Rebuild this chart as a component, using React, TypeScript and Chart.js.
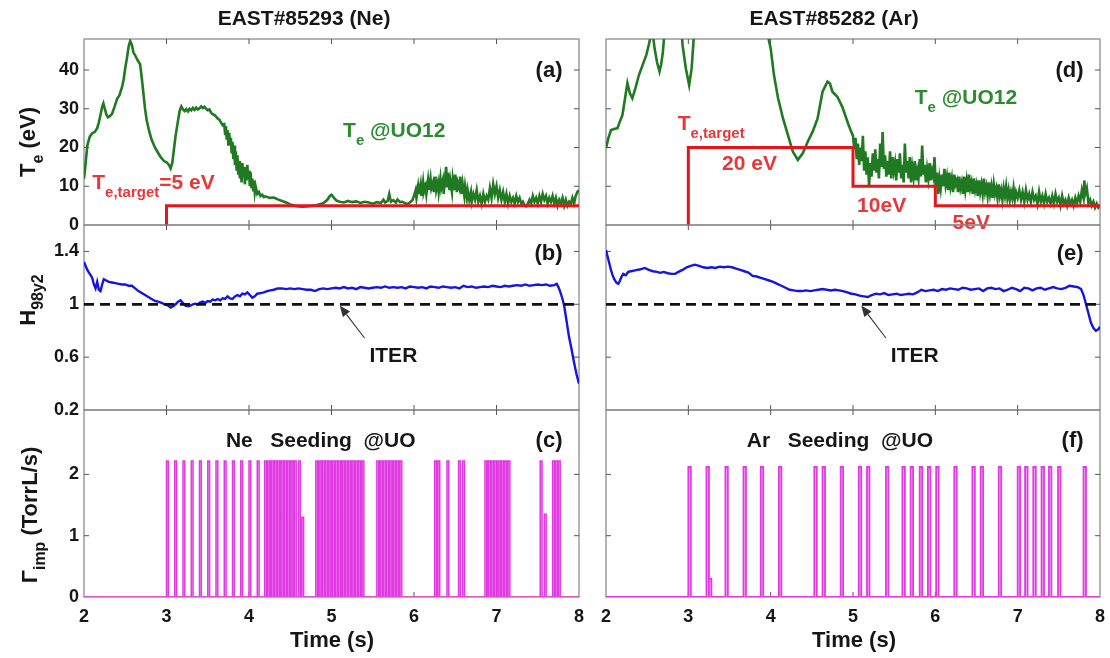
import React, { useEffect, useRef } from "react";
import { Chart, registerables } from "chart.js";

Chart.register(...registerables);

type P = [number, number];

// ---------------- axes / ticks ----------------
const TIME_RANGE: P = [2, 8];
const TIME_TICKS = [2, 3, 4, 5, 6, 7, 8];
const TE_RANGE: P = [0, 48];
const TE_TICKS = [0, 10, 20, 30, 40];
const H_RANGE: P = [0.2, 1.6];
const H_TICKS = [0.2, 0.6, 1, 1.4];
const GAMMA_RANGE: P = [0, 3.05];
const GAMMA_TICKS = [0, 1, 2];

// ---------------- texts ----------------
const TITLE_NE = "EAST#85293 (Ne)";
const TITLE_AR = "EAST#85282 (Ar)";
const X_TITLE = "Time (s)";
const ITER_TEXT = "ITER";
const SEED_NE = "Ne   Seeding  @UO";
const SEED_AR = "Ar   Seeding  @UO";
const LETTERS = ["(a)", "(b)", "(c)", "(d)", "(e)", "(f)"];

// ---------------- series: Te at UO12 (Ne shot) ----------------
const teNe: P[] = [
  [2.0, 12.0], [2.02, 16], [2.04, 20.5], [2.07, 22.8], [2.1, 23.7], [2.13, 24.0], [2.16, 25.0], [2.18, 26.5],
  [2.2, 28.4], [2.22, 30.5], [2.235, 31.4], [2.25, 30.2], [2.27, 28.6], [2.29, 27.8], [2.31, 28.0], [2.34, 28.7],
  [2.37, 30.5], [2.4, 32.5], [2.43, 33.5], [2.46, 35.5], [2.48, 37.5], [2.5, 40.5], [2.52, 43], [2.54, 46],
  [2.56, 47.5], [2.58, 46.5], [2.6, 44.5], [2.62, 43.8], [2.65, 42.5], [2.68, 41.5], [2.7, 38], [2.72, 34],
  [2.74, 30], [2.76, 27], [2.79, 24.2], [2.82, 22], [2.86, 20], [2.89, 18.9], [2.93, 17.5], [2.97, 16.5],
  [3.0, 16.2], [3.03, 15.5], [3.05, 14.6], [3.07, 16], [3.09, 19.5], [3.11, 23], [3.14, 27], [3.16, 29.5],
  [3.18, 30.6], [3.2, 29.8], [3.22, 29.4], [3.24, 29.9], [3.26, 29.3], [3.28, 30.0], [3.3, 29.6], [3.32, 30.2],
  [3.34, 29.7], [3.36, 30.3], [3.38, 29.8], [3.4, 30.1], [3.42, 30.6], [3.44, 30.2], [3.46, 30.5], [3.48, 30.0],
  [3.5, 29.6], [3.52, 29.8], [3.54, 29.0], [3.56, 28.6], [3.58, 28.4], [3.6, 28.0], [3.62, 27.5], [3.64, 27.2],
  [3.66, 26.5], [3.68, 25.8],
  [3.7, 26.0], [3.71, 23.5], [3.72, 25.5], [3.73, 22.0], [3.74, 24.5], [3.75, 20.5], [3.76, 23.8], [3.77, 21.0],
  [3.78, 22.5], [3.79, 18.5], [3.8, 21.5], [3.81, 17.0], [3.82, 20.5], [3.83, 15.5], [3.84, 19.0], [3.85, 14.0],
  [3.86, 18.0], [3.87, 13.0], [3.88, 16.5], [3.89, 12.0], [3.9, 15.5], [3.91, 11.0], [3.92, 16.0], [3.93, 12.5],
  [3.94, 15.0], [3.95, 10.5], [3.96, 14.5], [3.97, 11.5], [3.98, 15.5], [3.99, 12.0], [4.0, 14.0], [4.01, 10.0],
  [4.02, 13.5], [4.03, 9.5], [4.04, 12.0], [4.05, 9.0], [4.06, 11.5], [4.07, 8.5], [4.08, 10.0], [4.1, 8.0],
  [4.12, 8.5], [4.14, 7.5], [4.16, 7.8], [4.18, 7.2], [4.2, 7.4],
  [4.25, 7.0], [4.3, 7.1], [4.35, 6.6], [4.4, 6.2], [4.45, 5.8], [4.5, 5.3], [4.55, 5.0], [4.6, 4.8],
  [4.65, 4.7], [4.7, 4.8], [4.75, 4.9], [4.8, 5.0], [4.85, 5.3], [4.9, 5.6], [4.95, 6.5], [4.98, 7.5],
  [5.0, 7.8], [5.03, 7.0], [5.06, 6.3], [5.1, 6.0], [5.15, 5.8], [5.2, 6.2], [5.25, 5.9], [5.3, 6.1],
  [5.35, 5.7], [5.4, 6.0], [5.45, 5.8], [5.5, 5.5], [5.55, 5.9], [5.6, 5.7], [5.63, 6.5], [5.65, 5.8],
  [5.68, 6.2], [5.7, 8.0], [5.72, 6.0], [5.75, 6.4], [5.78, 5.8], [5.8, 6.6], [5.83, 5.9], [5.86, 6.0],
  [5.89, 5.6], [5.92, 5.4], [5.95, 5.8], [5.98, 6.4],
  [6.0, 7.5], [6.02, 9.0], [6.03, 7.0], [6.05, 10.0], [6.06, 8.0], [6.08, 10.5], [6.09, 7.5], [6.11, 11.0],
  [6.12, 8.5], [6.14, 10.0], [6.15, 8.0], [6.17, 11.5], [6.18, 9.0], [6.2, 12.0], [6.21, 9.5], [6.23, 11.0],
  [6.24, 8.5], [6.26, 12.5], [6.27, 9.0], [6.29, 11.0], [6.3, 8.5], [6.32, 12.0], [6.33, 9.5], [6.35, 11.5],
  [6.36, 8.0], [6.38, 13.0], [6.39, 15.0], [6.4, 10.0], [6.41, 13.5], [6.43, 9.0], [6.44, 11.5], [6.46, 8.5],
  [6.47, 12.0], [6.49, 9.0], [6.5, 13.0], [6.52, 8.5], [6.53, 11.0], [6.55, 9.5], [6.56, 12.5], [6.58, 8.0],
  [6.59, 10.5], [6.61, 7.5], [6.62, 10.0], [6.64, 7.0], [6.65, 9.0],
  [6.67, 6.5], [6.69, 8.5], [6.7, 6.0], [6.72, 8.0], [6.74, 6.5], [6.76, 9.0], [6.78, 6.0], [6.8, 7.5],
  [6.82, 5.5], [6.84, 8.0], [6.86, 6.0], [6.88, 7.5], [6.9, 6.5], [6.92, 9.5], [6.94, 7.0], [6.96, 10.5],
  [6.98, 8.0], [7.0, 10.0], [7.02, 7.0], [7.04, 9.0], [7.06, 6.5], [7.08, 8.5], [7.1, 6.0], [7.12, 8.0],
  [7.14, 5.5], [7.16, 7.5], [7.18, 6.0], [7.2, 7.0], [7.22, 5.5], [7.24, 7.5], [7.26, 6.0], [7.28, 7.0],
  [7.3, 5.5], [7.32, 6.0], [7.34, 5.0], [7.36, 4.8], [7.38, 5.5], [7.4, 6.5], [7.42, 5.5], [7.44, 7.5],
  [7.46, 6.0], [7.48, 7.0], [7.5, 5.5], [7.52, 7.5], [7.54, 6.0], [7.56, 8.0], [7.58, 6.5], [7.6, 7.5],
  [7.62, 5.5], [7.64, 7.0], [7.66, 6.0], [7.68, 7.5], [7.7, 5.5], [7.72, 7.0], [7.74, 5.0], [7.76, 6.5],
  [7.78, 5.5], [7.8, 7.0], [7.82, 5.0], [7.84, 6.5], [7.86, 5.0], [7.88, 6.0], [7.9, 5.5], [7.92, 7.0],
  [7.94, 5.5], [7.96, 7.5], [7.98, 8.5], [8.0, 9.0],
];
const teTargetNe: P[] = [[3, 0], [3, 5], [8, 5]];

// ---------------- series: Te at UO12 (Ar shot) ----------------
const teAr: P[] = [
  [2.0, 19.8], [2.03, 22.5], [2.06, 24.5], [2.1, 24.8], [2.14, 25.0], [2.17, 26.8], [2.2, 28.4], [2.23, 32.5],
  [2.26, 36.6], [2.29, 34.0], [2.32, 32.7], [2.36, 35.5], [2.4, 38.7], [2.44, 41.0], [2.49, 43.9], [2.52, 46.5],
  [2.55, 49.5], [2.57, 49.0], [2.59, 45.6], [2.62, 42.0], [2.65, 39.6], [2.67, 41.5], [2.69, 44.5], [2.71, 49.5],
  [2.8, 60], [2.9, 55], [2.93, 46.4], [2.97, 40.4], [3.01, 36.1], [3.04, 40.4], [3.07, 49.5], [3.2, 60],
  [3.5, 60], [3.8, 60], [3.96, 50], [3.98, 47.5], [4.0, 45.6], [4.04, 38.7], [4.09, 32.7], [4.15, 27.5],
  [4.21, 23.2], [4.27, 18.9], [4.33, 16.8], [4.39, 18.5], [4.45, 21.5], [4.51, 24.1], [4.57, 27.5], [4.63, 34.4],
  [4.69, 37.0], [4.72, 36.5], [4.75, 34.4], [4.81, 33.1], [4.87, 30.5], [4.94, 26.2], [4.97, 24.5],
  [5.0, 23.0], [5.015, 19.5], [5.03, 22.5], [5.045, 17.0], [5.06, 21.0], [5.075, 15.5], [5.09, 20.0], [5.105, 16.5],
  [5.12, 23.0], [5.135, 14.0], [5.15, 19.0], [5.165, 13.0], [5.18, 17.5], [5.195, 10.0], [5.21, 16.0], [5.225, 12.5],
  [5.24, 18.5], [5.255, 14.0], [5.27, 19.5], [5.285, 13.5], [5.3, 17.0], [5.315, 12.0], [5.33, 21.0], [5.345, 15.0],
  [5.36, 24.0], [5.375, 14.5], [5.39, 18.0], [5.405, 12.5], [5.42, 16.5], [5.435, 13.0], [5.45, 19.0], [5.465, 12.0],
  [5.48, 17.5], [5.495, 14.0], [5.51, 16.0], [5.525, 11.5], [5.54, 17.0], [5.555, 13.5], [5.57, 18.5], [5.585, 12.0],
  [5.6, 15.5], [5.615, 11.0], [5.63, 21.0], [5.645, 13.5], [5.66, 16.5], [5.675, 12.0], [5.69, 17.5], [5.705, 11.0],
  [5.72, 15.0], [5.735, 12.5], [5.75, 16.5], [5.765, 11.5], [5.78, 14.0], [5.795, 12.0], [5.81, 17.0], [5.825, 12.5],
  [5.84, 20.5], [5.855, 13.0], [5.87, 15.5], [5.885, 11.0], [5.9, 14.5], [5.915, 12.0], [5.93, 16.0], [5.945, 11.5],
  [5.96, 14.0], [5.975, 12.5], [5.99, 17.5],
  [6.005, 10.0], [6.02, 13.5], [6.035, 8.0], [6.05, 12.0], [6.065, 9.5], [6.08, 13.0], [6.095, 10.0], [6.11, 14.5],
  [6.125, 10.5], [6.14, 12.5], [6.155, 9.0], [6.17, 13.5], [6.185, 10.0], [6.2, 12.0], [6.215, 8.5], [6.23, 13.0],
  [6.245, 10.5], [6.26, 11.5], [6.275, 8.5], [6.29, 12.5], [6.305, 9.5], [6.32, 11.0], [6.335, 8.0], [6.35, 12.5],
  [6.365, 9.0], [6.38, 11.5], [6.395, 8.5], [6.41, 13.0], [6.425, 9.5], [6.44, 11.0], [6.455, 8.0], [6.47, 12.0],
  [6.485, 9.0], [6.5, 10.5], [6.515, 7.5], [6.53, 11.5], [6.545, 8.5], [6.56, 10.5], [6.575, 8.0], [6.59, 12.0],
  [6.605, 8.5], [6.62, 10.0], [6.635, 7.5], [6.65, 11.0], [6.665, 8.0], [6.68, 10.0], [6.695, 7.0], [6.71, 10.5],
  [6.725, 8.0], [6.74, 9.5], [6.755, 7.0], [6.77, 10.5], [6.785, 7.5], [6.8, 9.0], [6.815, 6.5], [6.83, 9.5],
  [6.845, 7.5], [6.86, 10.0], [6.875, 7.0], [6.89, 9.0], [6.905, 6.5], [6.92, 8.5], [6.935, 7.0], [6.95, 9.5],
  [6.965, 6.5], [6.98, 8.5],
  [7.0, 7.0], [7.02, 9.0], [7.04, 6.5], [7.06, 8.5], [7.08, 6.0], [7.1, 9.0], [7.12, 6.5], [7.14, 8.0],
  [7.16, 6.0], [7.18, 8.5], [7.2, 6.5], [7.22, 7.5], [7.24, 5.5], [7.26, 8.5], [7.28, 6.0], [7.3, 7.5],
  [7.32, 5.5], [7.34, 8.0], [7.36, 6.0], [7.38, 7.0], [7.4, 5.5], [7.42, 7.5], [7.44, 5.5], [7.46, 8.0],
  [7.48, 6.0], [7.5, 7.0], [7.52, 5.0], [7.54, 7.5], [7.56, 5.5], [7.58, 6.5], [7.6, 5.0], [7.62, 7.0],
  [7.64, 5.5], [7.66, 6.5], [7.68, 5.0], [7.7, 7.0], [7.72, 5.5], [7.74, 7.5], [7.76, 6.0], [7.78, 9.0],
  [7.8, 7.0], [7.81, 11.5], [7.82, 8.0], [7.84, 9.5], [7.86, 5.5], [7.88, 6.5], [7.9, 5.0], [7.92, 6.0],
  [7.94, 4.5], [7.96, 5.5], [7.98, 4.5], [8.0, 5.0],
];
const teTargetAr: P[] = [[3, 0], [3, 20], [5, 20], [5, 10], [6, 10], [6, 5], [8, 5]];

// ---------------- series: H98y2 ----------------
const hNe: P[] = [
  [2.0, 1.32], [2.02, 1.29], [2.04, 1.26], [2.06, 1.24], [2.08, 1.22], [2.1, 1.2], [2.12, 1.15], [2.14, 1.12],
  [2.16, 1.17], [2.18, 1.11], [2.2, 1.1], [2.22, 1.15], [2.24, 1.19], [2.27, 1.18], [2.3, 1.17], [2.34, 1.165],
  [2.38, 1.16], [2.42, 1.155], [2.46, 1.15], [2.5, 1.15], [2.54, 1.14], [2.58, 1.14], [2.62, 1.12], [2.66, 1.1],
  [2.7, 1.085], [2.74, 1.07], [2.78, 1.055], [2.82, 1.04], [2.86, 1.025], [2.9, 1.02], [2.94, 1.01], [2.98, 1.0],
  [3.02, 0.99], [3.05, 0.975], [3.08, 0.985], [3.11, 1.0], [3.14, 1.02], [3.17, 1.03], [3.2, 1.01], [3.23, 0.99],
  [3.26, 0.985], [3.29, 0.99], [3.32, 1.0], [3.35, 1.005], [3.38, 1.0], [3.41, 1.015], [3.44, 1.02], [3.47, 1.01],
  [3.5, 1.025], [3.53, 1.02], [3.56, 1.035], [3.59, 1.03], [3.62, 1.04], [3.65, 1.03], [3.68, 1.045], [3.71, 1.04],
  [3.74, 1.06], [3.77, 1.045], [3.8, 1.04], [3.83, 1.06], [3.86, 1.07], [3.89, 1.06], [3.92, 1.08], [3.95, 1.075],
  [3.98, 1.09], [4.01, 1.07], [4.04, 1.05], [4.07, 1.06], [4.1, 1.08], [4.14, 1.085], [4.18, 1.09], [4.22, 1.1],
  [4.26, 1.105], [4.3, 1.11], [4.35, 1.12], [4.4, 1.12], [4.45, 1.115], [4.5, 1.12], [4.55, 1.115], [4.6, 1.12],
  [4.65, 1.115], [4.7, 1.11], [4.75, 1.11], [4.8, 1.1], [4.85, 1.115], [4.9, 1.12], [4.95, 1.115], [5.0, 1.12],
  [5.05, 1.125], [5.1, 1.12], [5.15, 1.13], [5.2, 1.12], [5.25, 1.125], [5.3, 1.115], [5.35, 1.13], [5.4, 1.125],
  [5.45, 1.12], [5.5, 1.125], [5.55, 1.13], [5.6, 1.125], [5.65, 1.135], [5.7, 1.125], [5.75, 1.13], [5.8, 1.125],
  [5.85, 1.13], [5.9, 1.12], [5.95, 1.135], [6.0, 1.13], [6.05, 1.125], [6.1, 1.13], [6.15, 1.12], [6.2, 1.135],
  [6.25, 1.13], [6.3, 1.125], [6.35, 1.135], [6.4, 1.13], [6.45, 1.125], [6.5, 1.13], [6.55, 1.12], [6.6, 1.14],
  [6.65, 1.13], [6.7, 1.135], [6.75, 1.125], [6.8, 1.13], [6.85, 1.135], [6.9, 1.13], [6.95, 1.14], [7.0, 1.135],
  [7.05, 1.13], [7.1, 1.14], [7.15, 1.135], [7.2, 1.14], [7.25, 1.145], [7.3, 1.14], [7.35, 1.15], [7.4, 1.14],
  [7.45, 1.145], [7.5, 1.15], [7.55, 1.145], [7.6, 1.15], [7.65, 1.14], [7.7, 1.145], [7.73, 1.155], [7.75, 1.13],
  [7.77, 1.1], [7.8, 1.04], [7.82, 0.99], [7.85, 0.87], [7.88, 0.75], [7.91, 0.66], [7.94, 0.56], [7.97, 0.47],
  [8.0, 0.4],
];
const hAr: P[] = [
  [2.0, 1.41], [2.02, 1.36], [2.04, 1.31], [2.06, 1.26], [2.08, 1.22], [2.1, 1.19], [2.13, 1.16], [2.15, 1.155],
  [2.17, 1.18], [2.19, 1.21], [2.21, 1.23], [2.24, 1.22], [2.27, 1.245], [2.3, 1.25], [2.34, 1.255], [2.38, 1.26],
  [2.42, 1.265], [2.47, 1.275], [2.52, 1.26], [2.57, 1.25], [2.62, 1.245], [2.66, 1.238], [2.7, 1.245], [2.75, 1.235],
  [2.8, 1.23], [2.84, 1.23], [2.88, 1.245], [2.93, 1.26], [2.98, 1.28], [3.03, 1.29], [3.08, 1.3], [3.13, 1.29],
  [3.18, 1.28], [3.23, 1.275], [3.28, 1.28], [3.33, 1.275], [3.38, 1.285], [3.43, 1.28], [3.48, 1.285], [3.53, 1.28],
  [3.58, 1.27], [3.63, 1.26], [3.68, 1.25], [3.73, 1.24], [3.78, 1.215], [3.83, 1.21], [3.88, 1.2], [3.93, 1.19],
  [3.98, 1.18], [4.03, 1.17], [4.08, 1.155], [4.13, 1.14], [4.18, 1.125], [4.23, 1.11], [4.28, 1.105], [4.33, 1.1],
  [4.38, 1.1], [4.43, 1.105], [4.48, 1.1], [4.53, 1.105], [4.58, 1.11], [4.63, 1.115], [4.68, 1.11], [4.73, 1.105],
  [4.78, 1.11], [4.83, 1.105], [4.88, 1.1], [4.93, 1.09], [4.98, 1.08], [5.03, 1.075], [5.08, 1.065], [5.13, 1.06],
  [5.18, 1.055], [5.23, 1.07], [5.28, 1.08], [5.33, 1.075], [5.38, 1.085], [5.43, 1.07], [5.48, 1.075], [5.53, 1.08],
  [5.58, 1.07], [5.63, 1.075], [5.68, 1.08], [5.73, 1.075], [5.78, 1.09], [5.83, 1.11], [5.88, 1.1], [5.93, 1.105],
  [5.98, 1.11], [6.03, 1.1], [6.08, 1.115], [6.13, 1.11], [6.18, 1.12], [6.23, 1.115], [6.28, 1.11], [6.33, 1.125],
  [6.38, 1.12], [6.43, 1.11], [6.48, 1.115], [6.53, 1.12], [6.58, 1.1], [6.63, 1.12], [6.68, 1.125], [6.73, 1.115],
  [6.78, 1.12], [6.83, 1.1], [6.88, 1.11], [6.93, 1.125], [6.98, 1.115], [7.03, 1.1], [7.08, 1.125], [7.13, 1.12],
  [7.18, 1.105], [7.23, 1.12], [7.28, 1.125], [7.33, 1.11], [7.38, 1.12], [7.43, 1.13], [7.48, 1.12], [7.53, 1.115],
  [7.58, 1.125], [7.63, 1.14], [7.68, 1.135], [7.73, 1.13], [7.77, 1.115], [7.8, 1.07], [7.83, 1.0], [7.86, 0.93],
  [7.89, 0.86], [7.92, 0.82], [7.95, 0.8], [7.98, 0.81], [8.0, 0.83],
];
const iterLevel: P[] = [[2, 1], [8, 1]];

// ---------------- series: impurity seeding pulses ----------------
const NEON_PULSE_WIDTH = 0.022;
const ARGON_PULSE_WIDTH = 0.03;
const neonPulseHeight = 2.22;
const neonPulseStarts = [
  3.0, 3.1, 3.2, 3.3, 3.4, 3.5, 3.6, 3.7, 3.8, 3.9, 4.0, 4.1,
  4.19, 4.23, 4.27, 4.31, 4.35, 4.39, 4.43, 4.47, 4.51, 4.55, 4.6,
  4.81, 4.85, 4.89, 4.93, 4.97, 5.01, 5.05, 5.09, 5.13, 5.17, 5.21, 5.25, 5.29, 5.33, 5.37,
  5.55, 5.59, 5.63, 5.67, 5.71, 5.75, 5.79, 5.83,
  6.25, 6.29, 6.4,
  6.54, 6.59,
  6.86, 6.9, 6.94, 6.98, 7.02, 7.06, 7.1, 7.14,
  7.53, 7.68, 7.72, 7.75,
];
const neonPartialPulses: P[] = [[4.64, 1.3], [7.58, 1.35]];
const argonPulseHeight = 2.12;
const argonPulseStarts = [
  3.0, 3.22, 3.45, 3.67, 3.88, 4.1, 4.53, 4.63, 4.85, 5.07, 5.17, 5.4, 5.6, 5.7,
  5.81, 5.91, 6.01, 6.23, 6.45, 6.55, 6.77, 7.0, 7.09, 7.19, 7.29, 7.38, 7.49, 7.8,
];
const argonPartialPulses: P[] = [[3.25, 0.3]];

function pulseTrain(starts: number[], height: number, partial: P[], width: number): P[] {
  const all: P[] = [...starts.map((s) => [s, height] as P), ...partial].sort((a, b) => a[0] - b[0]);
  const pts: P[] = [[TIME_RANGE[0], 0]];
  for (const [s, h] of all) {
    pts.push([s, 0], [s, h], [s + width, h], [s + width, 0]);
  }
  pts.push([TIME_RANGE[1], 0]);
  return pts;
}

// ---------------- styles / layout ----------------
const FONT = '"Liberation Sans", Arial, Helvetica, sans-serif';
const C = {
  green: "#1f7a22",
  greenText: "#2c8a2f",
  red: "#e8141c",
  redText: "#e6383b",
  blue: "#1515e0",
  black: "#111111",
  magenta: "#e23ae2",
  magentaFill: "rgba(240,140,240,0.5)",
  frame: "#8c8c8c",
  tick: "#555555",
  text: "#161616",
  arrow: "#333333",
};
const PAGE_W = 1110;
const PAGE_H = 658;
const TICK_LEN = 5;
const TICK_FONT = 18;
const LABEL_FONT = 21;
const YTITLE_FONT = 22;
const XTITLE_FONT = 22;
const LETTER_FONT = 22;
const TITLE_FONT = 21;

type Col = { canvasLeft: number; canvasWidth: number; plotLeft: number; plotRight: number };
type Row = { top: number; bottom: number };
const LEFT: Col = { canvasLeft: 0, canvasWidth: 600, plotLeft: 84, plotRight: 579 };
const RIGHT: Col = { canvasLeft: 590, canvasWidth: 520, plotLeft: 606, plotRight: 1100 };
const ROW_TE: Row = { top: 39, bottom: 225 };
const ROW_H: Row = { top: 225, bottom: 410 };
const ROW_G: Row = { top: 410, bottom: 597 };

type Run = { text: string; sub?: boolean };

function drawRuns(ctx: CanvasRenderingContext2D, runs: Run[], x: number, y: number, size: number, color: string, align: "left" | "center" | "right") {
  const subSize = Math.round(size * 0.72);
  const fontFor = (r: Run) => `bold ${r.sub ? subSize : size}px ${FONT}`;
  let total = 0;
  const widths = runs.map((r) => {
    ctx.font = fontFor(r);
    const w = ctx.measureText(r.text).width;
    total += w;
    return w;
  });
  let cx = align === "left" ? x : align === "center" ? x - total / 2 : x - total;
  ctx.fillStyle = color;
  ctx.textAlign = "left";
  ctx.textBaseline = "alphabetic";
  runs.forEach((r, i) => {
    ctx.font = fontFor(r);
    ctx.fillText(r.text, cx, r.sub ? y + size * 0.38 : y);
    cx += widths[i];
  });
}

function drawYTitle(ctx: CanvasRenderingContext2D, col: Col, runs: Run[], pageX: number, centerY: number) {
  ctx.save();
  ctx.translate(pageX - col.canvasLeft, centerY);
  ctx.rotate(-Math.PI / 2);
  drawRuns(ctx, runs, 0, 0, YTITLE_FONT, C.text, "center");
  ctx.restore();
}

function drawArrow(ctx: CanvasRenderingContext2D, x1: number, y1: number, x2: number, y2: number) {
  const ang = Math.atan2(y2 - y1, x2 - x1);
  const L = 11;
  const W = 4.5;
  const bx = x2 - L * Math.cos(ang);
  const by = y2 - L * Math.sin(ang);
  ctx.strokeStyle = C.arrow;
  ctx.fillStyle = C.arrow;
  ctx.lineWidth = 1.1;
  ctx.beginPath();
  ctx.moveTo(x1, y1);
  ctx.lineTo(bx, by);
  ctx.stroke();
  ctx.beginPath();
  ctx.moveTo(x2, y2);
  ctx.lineTo(bx + W * Math.sin(ang), by - W * Math.cos(ang));
  ctx.lineTo(bx - W * Math.sin(ang), by + W * Math.cos(ang));
  ctx.closePath();
  ctx.fill();
}

const X = (c: any, v: number) => c.scales.x.getPixelForValue(v);
const Y = (c: any, v: number) => c.scales.y.getPixelForValue(v);

function lineDs(points: P[], color: string, width: number, extra: any = {}) {
  return {
    data: points.map(([x, y]) => ({ x, y })),
    borderColor: color,
    borderWidth: width,
    pointRadius: 0,
    fill: false,
    tension: 0,
    ...extra,
  };
}

type PanelSpec = {
  key: string;
  col: Col;
  row: Row;
  yRange: P;
  yTicks: number[];
  showYLabels: boolean;
  showXLabels: boolean;
  datasets: any[];
  annotate: (chart: any, ctx: CanvasRenderingContext2D) => void;
};

// annotation anchors (data units)
const LETTER_T = 7.8;
const ITER_TIP: P = [5.1, 0.99];
const ITER_TAIL: P = [5.4, 0.745];
const ITER_LABEL: P = [5.75, 0.563];

function letter(ctx: CanvasRenderingContext2D, chart: any, text: string, v: number) {
  drawRuns(ctx, [{ text }], X(chart, LETTER_T), Y(chart, v), LETTER_FONT, C.text, "right");
}

function iter(ctx: CanvasRenderingContext2D, chart: any) {
  drawArrow(ctx, X(chart, ITER_TAIL[0]), Y(chart, ITER_TAIL[1]), X(chart, ITER_TIP[0]), Y(chart, ITER_TIP[1]));
  drawRuns(ctx, [{ text: ITER_TEXT }], X(chart, ITER_LABEL[0]), Y(chart, ITER_LABEL[1]), LABEL_FONT, C.text, "center");
}

const TE_LABEL: Run[] = [{ text: "T" }, { text: "e", sub: true }, { text: " @UO12" }];

const PANELS: PanelSpec[] = [
  {
    key: "a", col: LEFT, row: ROW_TE, yRange: TE_RANGE, yTicks: TE_TICKS, showYLabels: true, showXLabels: false,
    datasets: [lineDs(teTargetNe, C.red, 3), lineDs(teNe, C.green, 2.6)],
    annotate: (ch, ctx) => {
      drawRuns(ctx, [{ text: TITLE_NE }], 304 - LEFT.canvasLeft, 25, TITLE_FONT, C.text, "center");
      drawYTitle(ctx, LEFT, [{ text: "T" }, { text: "e", sub: true }, { text: " (eV)" }], 35, 142);
      letter(ctx, ch, LETTERS[0], 38.2);
      drawRuns(ctx, [{ text: "T" }, { text: "e,target", sub: true }, { text: "=5 eV" }], X(ch, 2.1), Y(ch, 9.3), LABEL_FONT, C.redText, "left");
      drawRuns(ctx, TE_LABEL, X(ch, 5.14), Y(ch, 22.7), LABEL_FONT, C.greenText, "left");
    },
  },
  {
    key: "b", col: LEFT, row: ROW_H, yRange: H_RANGE, yTicks: H_TICKS, showYLabels: true, showXLabels: false,
    datasets: [lineDs(iterLevel, C.black, 2.8, { borderDash: [10, 6] }), lineDs(hNe, C.blue, 2.4)],
    annotate: (ch, ctx) => {
      drawYTitle(ctx, LEFT, [{ text: "H" }, { text: "98y2", sub: true }], 35, 300);
      letter(ctx, ch, LETTERS[1], 1.335);
      iter(ctx, ch);
    },
  },
  {
    key: "c", col: LEFT, row: ROW_G, yRange: GAMMA_RANGE, yTicks: GAMMA_TICKS, showYLabels: true, showXLabels: true,
    datasets: [lineDs(pulseTrain(neonPulseStarts, neonPulseHeight, neonPartialPulses, NEON_PULSE_WIDTH), C.magenta, 1.5, { fill: "origin", backgroundColor: C.magentaFill })],
    annotate: (ch, ctx) => {
      drawYTitle(ctx, LEFT, [{ text: "Γ" }, { text: "imp", sub: true }, { text: " (TorrL/s)" }], 37, 515);
      letter(ctx, ch, LETTERS[2], 2.45);
      drawRuns(ctx, [{ text: SEED_NE }], X(ch, 3.72), Y(ch, 2.45), LABEL_FONT, C.text, "left");
      drawRuns(ctx, [{ text: X_TITLE }], 332 - LEFT.canvasLeft, 647, XTITLE_FONT, C.text, "center");
    },
  },
  {
    key: "d", col: RIGHT, row: ROW_TE, yRange: TE_RANGE, yTicks: TE_TICKS, showYLabels: false, showXLabels: false,
    datasets: [lineDs(teTargetAr, C.red, 3), lineDs(teAr, C.green, 2.6)],
    annotate: (ch, ctx) => {
      drawRuns(ctx, [{ text: TITLE_AR }], 834 - RIGHT.canvasLeft, 25, TITLE_FONT, C.text, "center");
      letter(ctx, ch, LETTERS[3], 38.2);
      drawRuns(ctx, [{ text: "T" }, { text: "e,target", sub: true }], X(ch, 2.87), Y(ch, 24.5), LABEL_FONT, C.redText, "left");
      drawRuns(ctx, [{ text: "20 eV" }], X(ch, 3.41), Y(ch, 14.2), LABEL_FONT, C.redText, "left");
      drawRuns(ctx, [{ text: "10eV" }], X(ch, 5.05), Y(ch, 3.35), LABEL_FONT, C.redText, "left");
      drawRuns(ctx, [{ text: "5eV" }], X(ch, 6.21), Y(ch, -1.0), LABEL_FONT, C.redText, "left");
      drawRuns(ctx, TE_LABEL, X(ch, 5.75), Y(ch, 31.2), LABEL_FONT, C.greenText, "left");
    },
  },
  {
    key: "e", col: RIGHT, row: ROW_H, yRange: H_RANGE, yTicks: H_TICKS, showYLabels: false, showXLabels: false,
    datasets: [lineDs(iterLevel, C.black, 2.8, { borderDash: [10, 6] }), lineDs(hAr, C.blue, 2.4)],
    annotate: (ch, ctx) => {
      letter(ctx, ch, LETTERS[4], 1.335);
      iter(ctx, ch);
    },
  },
  {
    key: "f", col: RIGHT, row: ROW_G, yRange: GAMMA_RANGE, yTicks: GAMMA_TICKS, showYLabels: false, showXLabels: true,
    datasets: [lineDs(pulseTrain(argonPulseStarts, argonPulseHeight, argonPartialPulses, ARGON_PULSE_WIDTH), C.magenta, 1.8, { fill: "origin", backgroundColor: C.magentaFill })],
    annotate: (ch, ctx) => {
      letter(ctx, ch, LETTERS[5], 2.45);
      drawRuns(ctx, [{ text: SEED_AR }], X(ch, 3.71), Y(ch, 2.45), LABEL_FONT, C.text, "left");
      drawRuns(ctx, [{ text: X_TITLE }], 854 - RIGHT.canvasLeft, 647, XTITLE_FONT, C.text, "center");
    },
  },
];

function makeDecor(spec: PanelSpec) {
  return {
    id: "decor_" + spec.key,
    beforeDatasetsDraw(chart: any) {
      const { ctx, chartArea: a } = chart;
      const xs = chart.scales.x;
      const ys = chart.scales.y;
      ctx.save();
      ctx.strokeStyle = C.frame;
      ctx.lineWidth = 1.3;
      ctx.strokeRect(a.left, a.top, a.right - a.left, a.bottom - a.top);
      ctx.strokeStyle = C.tick;
      ctx.lineWidth = 1;
      ctx.beginPath();
      for (const t of xs.ticks) {
        if (t.value <= xs.min || t.value >= xs.max) continue;
        const p = xs.getPixelForValue(t.value);
        ctx.moveTo(p, a.bottom);
        ctx.lineTo(p, a.bottom - TICK_LEN);
        ctx.moveTo(p, a.top);
        ctx.lineTo(p, a.top + TICK_LEN);
      }
      for (const t of ys.ticks) {
        if (t.value <= ys.min || t.value >= ys.max) continue;
        const p = ys.getPixelForValue(t.value);
        ctx.moveTo(a.left, p);
        ctx.lineTo(a.left + TICK_LEN, p);
        ctx.moveTo(a.right, p);
        ctx.lineTo(a.right - TICK_LEN, p);
      }
      ctx.stroke();
      ctx.restore();
    },
    afterDraw(chart: any) {
      const ctx = chart.ctx as CanvasRenderingContext2D;
      ctx.save();
      spec.annotate(chart, ctx);
      ctx.restore();
    },
  };
}

function buildConfig(spec: PanelSpec): any {
  const { col, row } = spec;
  const tickFont = { family: FONT, size: TICK_FONT, weight: "bold" };
  return {
    type: "line",
    data: { datasets: spec.datasets },
    options: {
      animation: false,
      responsive: false,
      maintainAspectRatio: false,
      devicePixelRatio: 1,
      events: [],
      layout: {
        padding: { top: row.top, left: 0, bottom: 0, right: col.canvasLeft + col.canvasWidth - col.plotRight },
      },
      plugins: { legend: { display: false }, tooltip: { enabled: false }, title: { display: false } },
      scales: {
        x: {
          type: "linear",
          position: "bottom",
          min: TIME_RANGE[0],
          max: TIME_RANGE[1],
          grid: { display: false, drawTicks: false },
          border: { display: false },
          ticks: {
            display: spec.showXLabels,
            autoSkip: false,
            maxRotation: 0,
            padding: 9,
            color: C.text,
            font: tickFont,
            callback: (v: number) => String(v),
          },
          afterBuildTicks: (s: any) => {
            s.ticks = TIME_TICKS.map((v) => ({ value: v }));
          },
          afterFit: (s: any) => {
            s.height = PAGE_H - row.bottom;
            s.paddingLeft = 0;
            s.paddingRight = 0;
          },
        },
        y: {
          type: "linear",
          position: "left",
          min: spec.yRange[0],
          max: spec.yRange[1],
          grid: { display: false, drawTicks: false },
          border: { display: false },
          ticks: {
            display: spec.showYLabels,
            autoSkip: false,
            padding: 5,
            color: C.text,
            font: tickFont,
            callback: (v: number) => String(v),
          },
          afterBuildTicks: (s: any) => {
            s.ticks = spec.yTicks.map((v) => ({ value: v }));
          },
          afterFit: (s: any) => {
            s.width = col.plotLeft - col.canvasLeft;
            s.paddingTop = 0;
            s.paddingBottom = 0;
          },
        },
      },
    },
    plugins: [makeDecor(spec)],
  };
}

function PanelCanvas({ spec }: { spec: PanelSpec }) {
  const ref = useRef<HTMLCanvasElement | null>(null);
  useEffect(() => {
    if (!ref.current) return;
    const chart = new Chart(ref.current, buildConfig(spec));
    return () => chart.destroy();
  }, [spec]);
  return (
    <canvas
      ref={ref}
      width={spec.col.canvasWidth}
      height={PAGE_H}
      style={{ position: "absolute", left: spec.col.canvasLeft, top: 0, width: spec.col.canvasWidth, height: PAGE_H }}
    />
  );
}

export default function App() {
  return (
    <div style={{ position: "absolute", left: 0, top: 0, width: PAGE_W, height: PAGE_H, background: "#ffffff", overflow: "hidden" }}>
      {PANELS.map((p) => (
        <PanelCanvas key={p.key} spec={p} />
      ))}
    </div>
  );
}
